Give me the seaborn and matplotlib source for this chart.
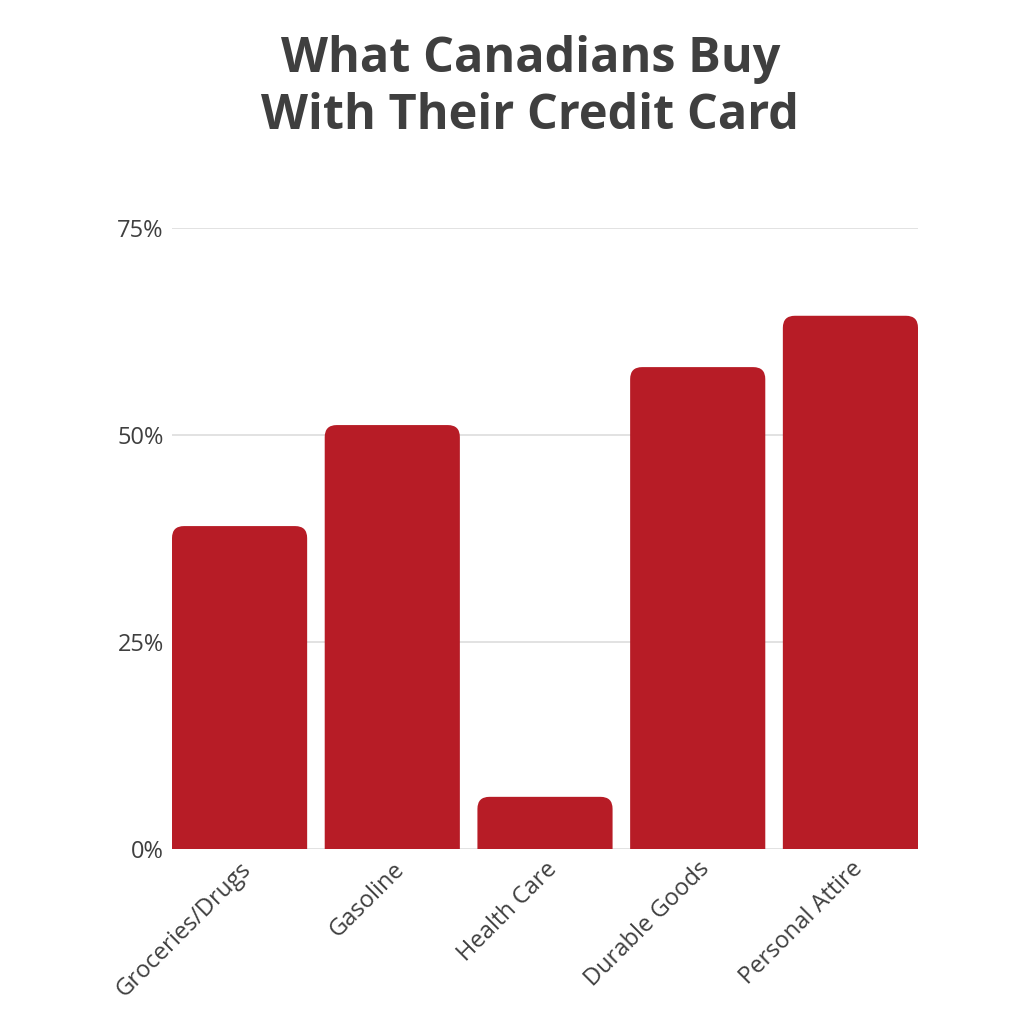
import matplotlib
matplotlib.use("Agg")
import matplotlib.pyplot as plt
import seaborn as sns
import pandas as pd
from matplotlib.patches import FancyBboxPatch

categories = ["Groceries/Drugs", "Gasoline", "Health Care", "Durable Goods", "Personal Attire"]
values = [39.0, 51.2, 6.3, 58.2, 64.4]
yticks = [0, 25, 50, 75]
ytick_labels = ["0%", "25%", "50%", "75%"]
title = "What Canadians Buy\nWith Their Credit Card"

sns.set_theme(style="white")
plt.rcParams['font.family'] = ['Open Sans', 'DejaVu Sans']

BAR = "#B71C26"
TXT = "#3f3f3f"

fig = plt.figure(figsize=(10.24, 10.24), dpi=100)
ax = fig.add_axes([172/1024, 1-849/1024, (918-172)/1024, (849-228)/1024])

df = pd.DataFrame({"cat": categories, "val": values})
W = 0.885
sns.barplot(data=df, x="cat", y="val", color=BAR, width=W, ax=ax, saturation=1, zorder=3)

ax.set_ylim(0, 75)
ax.set_xlim(-W/2, len(categories)-1+W/2)

# replace bars with rounded-top versions (bottom corners hidden below the axis)
fig.canvas.draw()
xpp = (ax.get_xlim()[1]-ax.get_xlim()[0]) / ax.bbox.width
ypp = (ax.get_ylim()[1]-ax.get_ylim()[0]) / ax.bbox.height
r_px = 12
for p in list(ax.patches):
    x0, w, h = p.get_x(), p.get_width(), p.get_height()
    p.set_visible(False)
    rs = r_px * xpp
    ext = 30 * ypp
    fb = FancyBboxPatch((x0, -ext), w, h + ext, boxstyle=f"round,pad=0,rounding_size={rs}",
                        mutation_aspect=ypp/xpp, facecolor=BAR, edgecolor="none", zorder=3,
                        clip_on=True)
    ax.add_patch(fb)

ax.set_yticks(yticks)
ax.set_yticklabels(ytick_labels)
ax.yaxis.grid(True, color="#dddddd", linewidth=1.2, zorder=0)
ax.set_axisbelow(True)
for s in ax.spines.values():
    s.set_visible(False)
ax.tick_params(axis="both", length=0, colors=TXT, labelsize=17)
ax.tick_params(axis="y", pad=6)
ax.tick_params(axis="x", pad=6)
plt.setp(ax.get_xticklabels(), rotation=45, ha="right", rotation_mode="anchor")
ax.set_xlabel("")
ax.set_ylabel("")

fig.text(0.518, 0.914, title, ha="center", va="center", fontsize=35, fontweight="bold",
         color=TXT, linespacing=1.2, family=['Open Sans', 'DejaVu Sans'])

fig.savefig("out.png", dpi=100, facecolor="white")
